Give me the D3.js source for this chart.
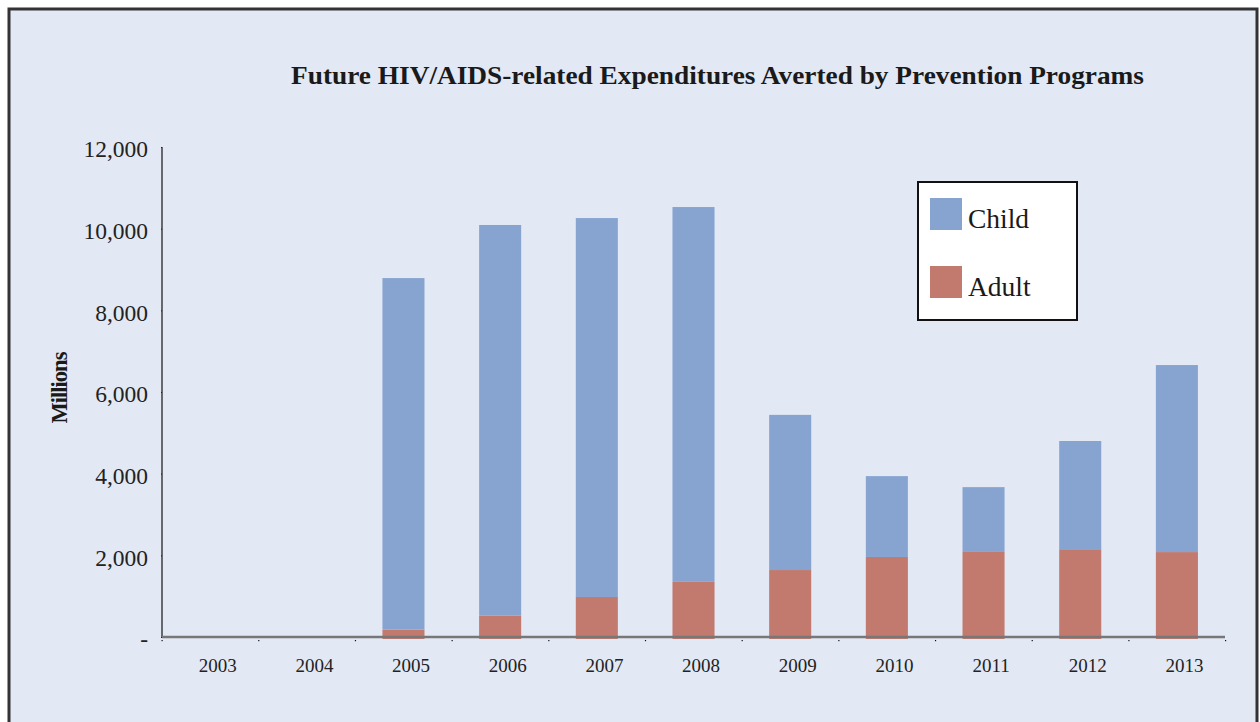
<!DOCTYPE html>
<html>
<head>
<meta charset="utf-8">
<script src="https://cdn.jsdelivr.net/npm/d3@7"></script>
<style>
  html, body { margin: 0; padding: 0; background: #fff; }
  svg { display: block; }
</style>
</head>
<body>
<div id="chart"></div>
<script>

// Chart data (millions)
const years = ['2003', '2004', '2005', '2006', '2007', '2008', '2009', '2010', '2011', '2012', '2013']
const adult = [0, 0, 180, 520, 980, 1350, 1640, 1960, 2100, 2150, 2080]
const child = [0, 0, 8610, 9570, 9280, 9180, 3800, 1980, 1570, 2650, 4580]
const yTicks = [0, 2000, 4000, 6000, 8000, 10000, 12000]
const seriesNames = ['Child', 'Adult']
const colors = {Child: '#87a4d1', Adult: '#c2796e'}

const serif = "'Liberation Serif', 'DejaVu Serif', serif"

function drawChart(target_id) {

    const width = 1260
    const height = 722
    const margin = {left: 162, right: 35, top: 147, bottom: 85}

    var svg = d3.select(target_id)
        .append("svg")
        .attr("width", width)
        .attr("height", height)

    // background + frame
    svg.append("rect")
        .attr("x", 9).attr("y", 9)
        .attr("width", 1248).attr("height", 730)
        .attr("fill", "#e2e9f5")
        .attr("stroke", "#333")
        .attr("stroke-width", 3)

    const x = d3.scaleBand()
        .domain(years)
        .range([margin.left, width - margin.right])
        .paddingInner(0.565)
        .paddingOuter(0.28)

    const y = d3.scaleLinear()
        .domain([0, 12000])
        .range([height - margin.bottom, margin.top])

    // stack: adult at the bottom, child on top
    const rows = years.map((yr, i) => ({year: yr, Adult: adult[i], Child: child[i]}))
    const stack = d3.stack().keys(['Adult', 'Child'])(rows)

    svg.append("g")
        .selectAll("g")
        .data(stack)
        .enter()
        .append("g")
        .attr("fill", d => colors[d.key])
        .selectAll("rect")
        .data(d => d.filter(p => p[1] - p[0] > 0))
        .enter()
        .append("rect")
        .attr("x", d => x(d.data.year))
        .attr("width", x.bandwidth())
        .attr("y", d => y(d[1]))
        .attr("height", d => y(d[0]) - y(d[1]) + (d[0] === 0 ? 2 : 0))

    // y axis
    const yAxis = d3.axisLeft(y)
        .tickValues(yTicks)
        .tickSize(3)
        .tickPadding(11)
        .tickFormat(d => d === 0 ? '-' : d3.format(",")(d))

    const gy = svg.append("g")
        .attr("transform", `translate(${margin.left},0)`)
        .call(yAxis)
    gy.select(".domain").attr("stroke", "#111").attr("stroke-width", 1.2)
        .attr("d", `M0,${y(12000)}V${y(0)}`)
    gy.selectAll(".tick line").attr("stroke", "#222").attr("stroke-dasharray", "1,2")
    gy.selectAll(".tick text")
        .attr("font-family", serif)
        .attr("font-size", 23.5)
        .attr("fill", "#222")
        .attr("dy", "0.42em")

    // x axis
    const xAxis = d3.axisBottom(x).tickSize(0).tickPadding(22)
    const gx = svg.append("g")
        .attr("transform", `translate(0,${y(0)})`)
        .call(xAxis)
    gx.select(".domain").attr("stroke", "#777").attr("stroke-width", 2.5)
        .attr("d", `M${margin.left},0H${width - margin.right}`)
    gx.selectAll(".tick text")
        .attr("font-family", serif)
        .attr("font-size", 19)
        .attr("fill", "#222")
        .attr("dx", "0.4em")

    // small dot ticks between categories
    const step = x.step()
    svg.append("g")
        .selectAll("rect")
        .data(d3.range(years.length + 1))
        .enter()
        .append("rect")
        .attr("x", i => margin.left + i * step - 0.5)
        .attr("y", y(0) + 3)
        .attr("width", 1.2).attr("height", 1.2)
        .attr("fill", "#111")

    // title
    svg.append("text")
        .attr("x", 291)
        .attr("y", 84)
        .attr("textLength", 853)
        .attr("lengthAdjust", "spacingAndGlyphs")
        .attr("font-family", serif)
        .attr("font-weight", "bold")
        .attr("font-size", 24.5)
        .attr("fill", "#1a1a1a")
        .text("Future HIV/AIDS-related Expenditures Averted by Prevention Programs")

    // y label
    svg.append("text")
        .attr("transform", "translate(67,388) rotate(-90)")
        .attr("text-anchor", "middle")
        .attr("font-family", serif)
        .attr("font-weight", "bold")
        .attr("font-size", 22.5)
        .attr("letter-spacing", "-1px")
        .attr("fill", "#1a1a1a")
        .text("Millions")

    // legend
    const lg = svg.append("g").attr("transform", "translate(918,182)")
    lg.append("rect")
        .attr("width", 159).attr("height", 138)
        .attr("fill", "#fff")
        .attr("stroke", "#111")
        .attr("stroke-width", 2)
    const item = lg.selectAll("g.item")
        .data(seriesNames)
        .enter()
        .append("g")
        .attr("class", "item")
        .attr("transform", (d, i) => `translate(12,${16 + i * 68})`)
    item.append("rect")
        .attr("width", 32).attr("height", 32)
        .attr("fill", d => colors[d])
    item.append("text")
        .attr("x", 38)
        .attr("y", 30)
        .attr("font-family", serif)
        .attr("font-size", 27.5)
        .attr("fill", "#1a1a1a")
        .text(d => d)
}

drawChart("#chart")
</script>
</body>
</html>
